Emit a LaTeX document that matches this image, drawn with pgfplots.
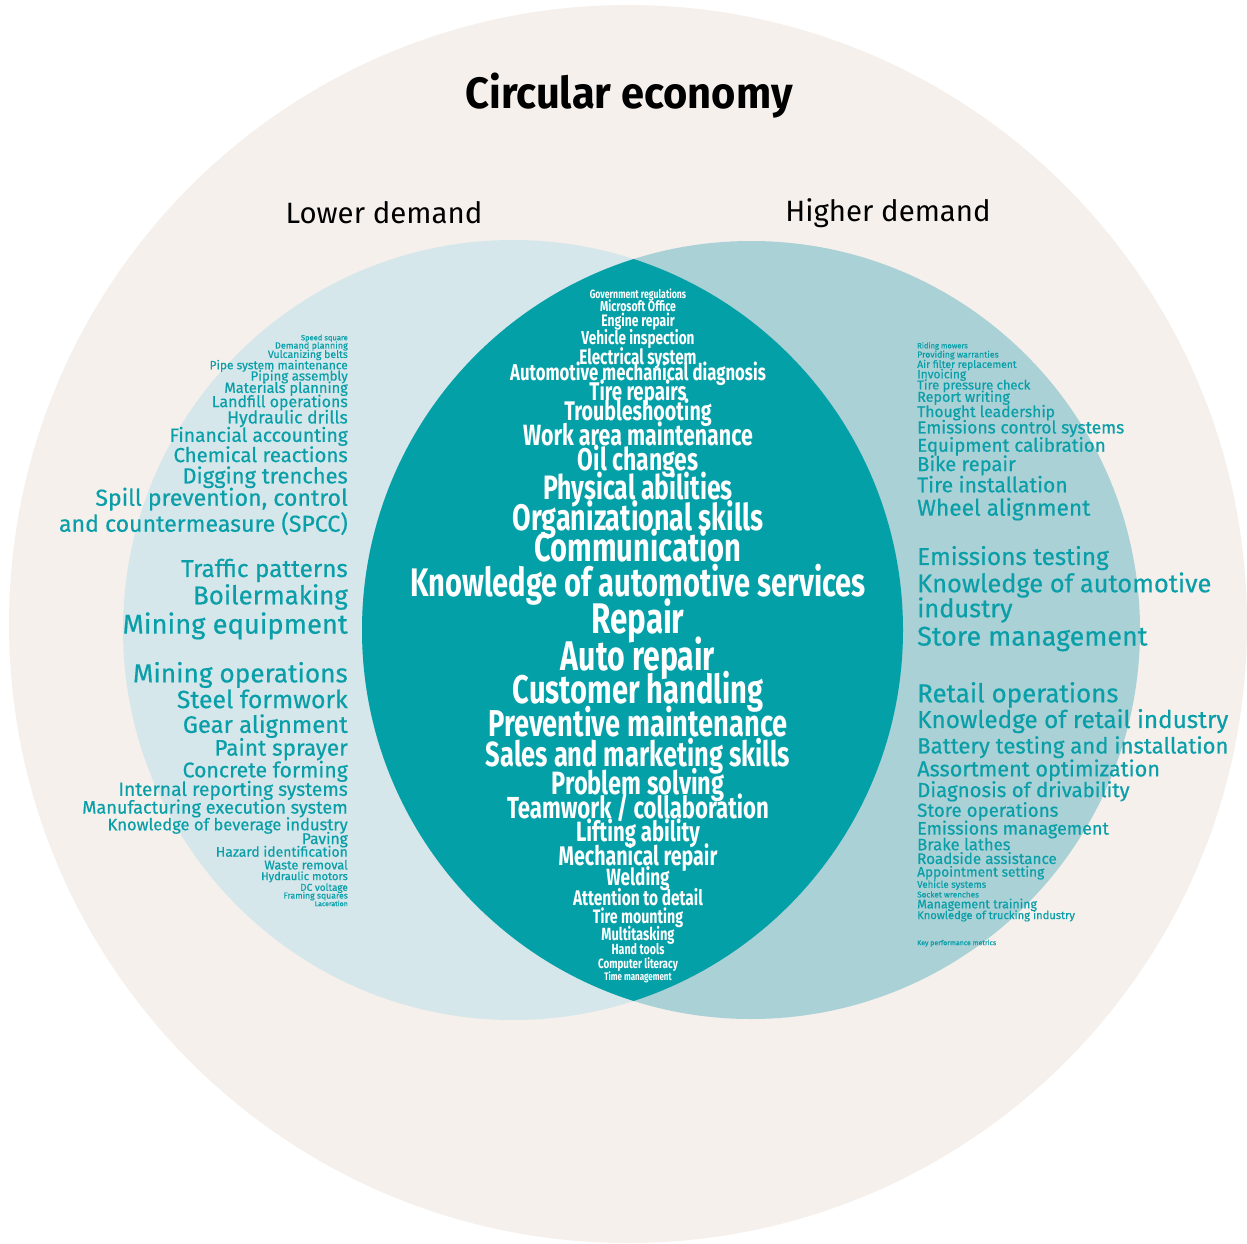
\documentclass[border=0pt]{standalone}
\usepackage{pgfplots}
\usepackage{pgfplotstable}
\pgfplotsset{compat=1.18}
\usepackage{fontspec}
\setmainfont{Fira Sans}
\newfontfamily\sidefont[FakeBold=0.5]{Fira Sans}
\newfontfamily\condfont[FakeStretch=0.73]{Fira Sans}
\newfontfamily\titlefont[FakeStretch=0.95]{Fira Sans}

\definecolor{outerc}{HTML}{F5F0EC}
\definecolor{lowc}{HTML}{D5E7EB}
\definecolor{highc}{HTML}{A9D1D6}
\definecolor{lensc}{HTML}{04A0A8}
\definecolor{wordc}{HTML}{0A9FA8}

% lower demand only (right aligned)
\pgfplotstableread[col sep=comma,row sep=\\]{
x,y,s,label\\
348,336,7.6,Speed square\\
348,344,9.1,Demand planning\\
348,353,10.5,Vulcanizing belts\\
348,364,12,Pipe system maintenance\\
348,375,13.3,Piping assembly\\
348,387,14.7,Materials planning\\
348,401,16,Landfill operations\\
348,417,17.6,Hydraulic drills\\
348,435,19.3,Financial accounting\\
348,455,20.4,Chemical reactions\\
348,476,22,Digging trenches\\
348,498,23.2,{Spill prevention, control}\\
348,524,23.2,and countermeasure (SPCC)\\
348,569,24.4,Traffic patterns\\
348,596,25.9,Boilermaking\\
348,625,27.4,Mining equipment\\
348,674,26.3,Mining operations\\
348,700,24.9,Steel formwork\\
348,725,23.9,Gear alignment\\
348,748,22.6,Paint sprayer\\
348,770,21.3,Concrete forming\\
348,789,19.3,Internal reporting systems\\
348,807,18.2,Manufacturing execution system\\
348,824,16.6,Knowledge of beverage industry\\
348,838,15.7,Paving\\
348,851,14,Hazard identification\\
348,864,12.7,Waste removal\\
348,875,11.2,Hydraulic motors\\
348,886,10,DC voltage\\
348,894,8.7,Framing squares\\
348,902,7,Laceration\\
}\lowwords

% higher demand only (left aligned)
\pgfplotstableread[col sep=comma,row sep=\\]{
x,y,s,label\\
917,344,7.6,Riding mowers\\
917,353,8.8,Providing warranties\\
917,363,10.4,Air filter replacement\\
917,373,12,Invoicing\\
917,384,13,Tire pressure check\\
917,396,14.4,Report writing\\
917,411,15.7,Thought leadership\\
917,427,17.5,Emissions control systems\\
917,445,18.8,Equipment calibration\\
917,464,20.2,Bike repair\\
917,485,21.2,Tire installation\\
917,508,22.8,Wheel alignment\\
917,557,24.4,Emissions testing\\
917,584,25.5,Knowledge of automotive\\
917,609,25.5,industry\\
917,637,27,Store management\\
917,694,26,Retail operations\\
917,720,24.4,Knowledge of retail industry\\
917,746,22.2,Battery testing and installation\\
917,769,21.8,Assortment optimization\\
917,790,20.5,Diagnosis of drivability\\
917,810,18.8,Store operations\\
917,828,18,Emissions management\\
917,844,16.7,Brake lathes\\
917,858,15.3,Roadside assistance\\
917,871,13.7,Appointment setting\\
917,883,9.7,Vehicle systems\\
917,893,8.2,Socket wrenches\\
917,903,12.5,Management training\\
917,914,11.2,Knowledge of trucking industry\\
917,941,7,Key performance metrics\\
}\highwords

% both (centred)
\pgfplotstableread[col sep=comma,row sep=\\]{
x,y,s,label\\
638,293,12,Government regulations\\
638,305,14.5,Microsoft Office\\
638,320,16.7,Engine repair\\
638,337,18.7,Vehicle inspection\\
638,356,21,Electrical system\\
638,372,23,Automotive mechanical diagnosis\\
638,391,25.7,Tire repairs\\
638,411,27,Troubleshooting\\
638,435,29.4,Work area maintenance\\
638,460,31.5,Oil changes\\
638,488,34,Physical abilities\\
638,518,37,Organizational skills\\
638,549,40,Communication\\
638,584,40,Knowledge of automotive services\\
638,620,43,Repair\\
638,657,41.6,Auto repair\\
638,691,40,Customer handling\\
638,724,37.5,Preventive maintenance\\
638,755,35,Sales and marketing skills\\
638,783,32.4,Problem solving\\
638,808,30.5,Teamwork / collaboration\\
638,832,28,Lifting ability\\
638,856,27,Mechanical repair\\
638,877,23.6,Welding\\
638,897,21.3,Attention to detail\\
638,916,19.5,Tire mounting\\
638,933,17.7,Multitasking\\
638,948,14.7,Hand tools\\
638,962,13.5,Computer literacy\\
638,975,11,Time management\\
}\bothwords

\begin{document}
\begin{tikzpicture}
\begin{axis}[
    width=1247bp, height=1244bp, scale only axis,
    hide axis, clip=false,
    xmin=0, xmax=1247, ymin=0, ymax=1244, y dir=reverse,
]
% page frame, invisible
\path (axis cs:0,0) rectangle (axis cs:1247,1244);
% circles
\fill[outerc] (axis cs:628,624) circle[radius=619];
\fill[lowc] (axis cs:513,630) circle[radius=390];
\fill[highc] (axis cs:751,630) circle[radius=389];
\begin{scope}
  \clip (axis cs:513,630) circle[radius=390];
  \fill[lensc] (axis cs:751,630) circle[radius=389];
\end{scope}

\node[font=\titlefont\bfseries\fontsize{44}{44}\selectfont] at (axis cs:629,96) {Circular economy};
\node[font=\fontsize{29.5}{29.5}\selectfont] at (axis cs:384,213) {Lower demand};
\node[font=\fontsize{29.5}{29.5}\selectfont] at (axis cs:888,213) {Higher demand};

\addplot[draw=none, mark=none, nodes near coords, point meta=explicit symbolic,
    visualization depends on={\thisrow{s}\as\fs},
    every node near coord/.append style={anchor=mid east, inner sep=0pt,
      yshift={-0.22*\fs}, text=wordc, font=\sidefont\fontsize{\fs}{\fs}\selectfont}]
    table[x=x, y=y, meta=label] {\lowwords};
\addplot[draw=none, mark=none, nodes near coords, point meta=explicit symbolic,
    visualization depends on={\thisrow{s}\as\fs},
    every node near coord/.append style={anchor=mid west, inner sep=0pt,
      yshift={-0.22*\fs}, text=wordc, font=\sidefont\fontsize{\fs}{\fs}\selectfont}]
    table[x=x, y=y, meta=label] {\highwords};
\addplot[draw=none, mark=none, nodes near coords, point meta=explicit symbolic,
    visualization depends on={\thisrow{s}\as\fs},
    every node near coord/.append style={anchor=mid, inner sep=0pt,
      yshift={-0.26*\fs}, text=white, font=\condfont\bfseries\fontsize{\fs}{\fs}\selectfont}]
    table[x=x, y=y, meta=label] {\bothwords};
\end{axis}
\end{tikzpicture}
\end{document}
